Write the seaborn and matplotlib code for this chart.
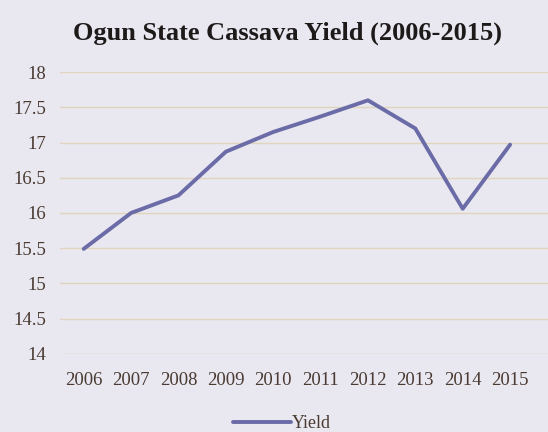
import pandas as pd
import matplotlib
matplotlib.use("Agg")
import matplotlib.pyplot as plt
import seaborn as sns

years = ["2006", "2007", "2008", "2009", "2010", "2011", "2012", "2013", "2014", "2015"]
yield_vals = [15.49, 16.0, 16.25, 16.87, 17.15, 17.37, 17.6, 17.2, 16.06, 16.97]
yticks = [14, 14.5, 15, 15.5, 16, 16.5, 17, 17.5, 18]

bg = "#e9e8f0"
txt = "#4a3a32"

sns.set_style("white")
plt.rcParams['font.family'] = ['Liberation Serif', 'DejaVu Serif']

df = pd.DataFrame({"Year": years, "Yield": yield_vals})

fig = plt.figure(figsize=(5.48, 4.32), dpi=100, facecolor=bg)
ax = fig.add_axes([0.1095, 0.181, 0.8905, 0.652])
ax.set_facecolor(bg)

sns.lineplot(data=df, x="Year", y="Yield", ax=ax, color="#6b6ba8",
             linewidth=2.8, label="Yield", sort=False)

ax.set_ylim(14, 18)
ax.set_xlim(-0.5, 9.8)
ax.set_yticks(yticks)
ax.set_yticklabels([f"{v:g}" for v in yticks])
ax.yaxis.grid(True, color="#e0d4bc", linewidth=1)
ax.xaxis.grid(False)
ax.set_axisbelow(True)
for s in ax.spines.values():
    s.set_visible(False)
ax.tick_params(axis="y", length=0, pad=10, labelsize=13.5, labelcolor=txt)
ax.tick_params(axis="x", length=0, pad=13, labelsize=13.5, labelcolor=txt)
ax.set_xlabel("")
ax.set_ylabel("")

fig.suptitle("Ogun State Cassava Yield (2006-2015)", x=0.525, y=0.95,
             fontsize=19, fontweight="bold", color="#1e1a1a")

leg = ax.legend(loc="upper center", bbox_to_anchor=(0.455, -0.16), frameon=False,
                fontsize=13, handlelength=3.2, handletextpad=0.1)
for t in leg.get_texts():
    t.set_color(txt)

fig.savefig("out.png", dpi=100, facecolor=bg)
